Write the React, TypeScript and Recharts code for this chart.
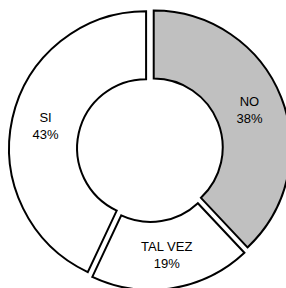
import { PieChart, Pie, Cell, Sector } from 'recharts'

const labels = ['NO', 'TAL VEZ', 'SI']
const values = [38, 19, 43]
const fills = ['#c0c0c0', '#ffffff', '#ffffff']

const data = labels.map((name, i) => ({ name, value: values[i] }))

const RAD = Math.PI / 180
const EXPLODE = 4

const ExplodedSlice = (props: any) => {
  const { cx, cy, midAngle } = props
  const dx = EXPLODE * Math.cos(-midAngle * RAD)
  const dy = EXPLODE * Math.sin(-midAngle * RAD)
  return <Sector {...props} cx={cx + dx} cy={cy + dy} />
}

const renderLabel = (p: any) => {
  const r = (p.innerRadius + p.outerRadius) / 2 + EXPLODE
  const x = p.cx + r * Math.cos(-p.midAngle * RAD)
  const y = p.cy + r * Math.sin(-p.midAngle * RAD)
  return (
    <g>
      <text x={x} y={y - 4} textAnchor="middle" fontFamily="'Liberation Sans', Arial" fontSize={13} fill="#000">
        {p.name}
      </text>
      <text x={x} y={y + 13} textAnchor="middle" fontFamily="'Liberation Sans', Arial" fontSize={13} fill="#000">
        {Math.round(p.percent * 100)}%
      </text>
    </g>
  )
}

export default function App() {
  return (
    <div style={{ position: 'fixed', left: 0, top: 0, width: 286, height: 288, overflow: 'hidden', background: '#fff' }}>
      <PieChart width={286} height={288} margin={{ top: 0, right: 0, bottom: 0, left: 0 }}>
        <Pie
          data={data}
          dataKey="value"
          nameKey="name"
          cx={150}
          cy={149}
          innerRadius={69}
          outerRadius={137}
          startAngle={90}
          endAngle={-270}
          stroke="#000"
          strokeWidth={2}
          label={renderLabel}
          labelLine={false}
          shape={ExplodedSlice}
          inactiveShape={ExplodedSlice}
          isAnimationActive={false}
        >
          {data.map((d, i) => (
            <Cell key={d.name} fill={fills[i]} />
          ))}
        </Pie>
      </PieChart>
    </div>
  )
}
